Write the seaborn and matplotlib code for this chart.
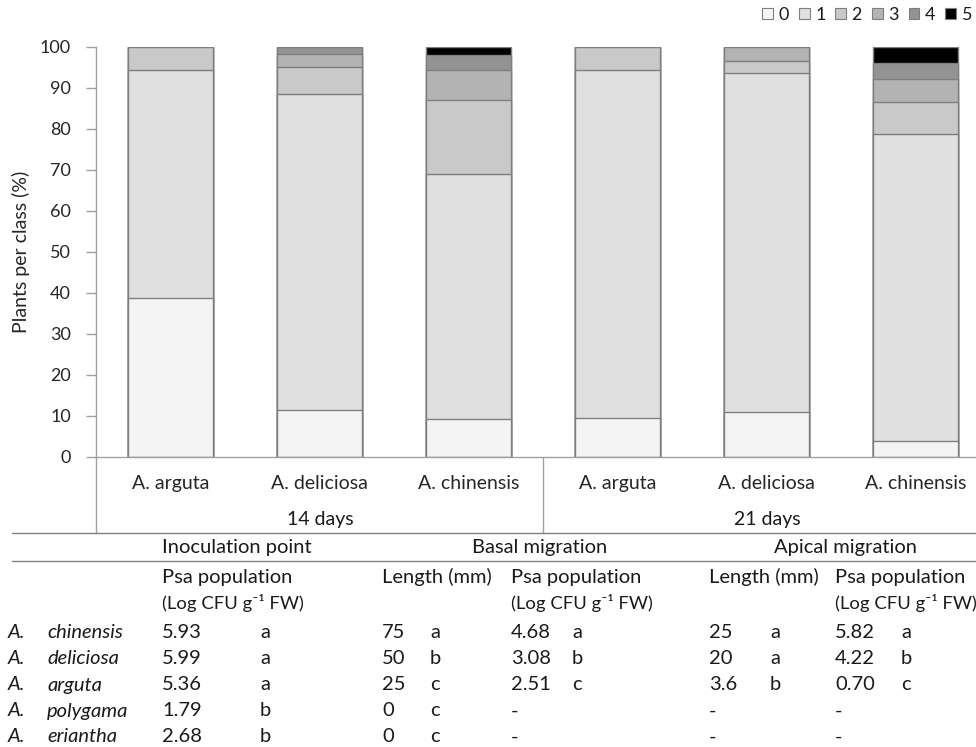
import numpy as np
import pandas as pd
import matplotlib
matplotlib.use("Agg")
import matplotlib.pyplot as plt
import seaborn as sns
from matplotlib.patches import Patch
from matplotlib.lines import Line2D

# bars: 14 days then 21 days
bar_keys = ["14_arguta", "14_deliciosa", "14_chinensis", "21_arguta", "21_deliciosa", "21_chinensis"]
bar_labels = ["A. arguta", "A. deliciosa", "A. chinensis"] * 2
day_labels = ["14 days", "21 days"]
class_names = ["0", "1", "2", "3", "4", "5"]

# percent of plants per symptom class
class0 = [38.8, 11.4, 9.2, 9.6, 10.9, 3.8]
class1 = [55.5, 77.1, 59.8, 84.7, 82.8, 74.9]
class2 = [5.7, 6.5, 18.0, 5.7, 3.0, 7.8]
class3 = [0.0, 3.2, 7.5, 0.0, 3.3, 5.7]
class4 = [0.0, 1.8, 3.5, 0.0, 0.0, 3.8]
class5 = [0.0, 0.0, 2.0, 0.0, 0.0, 4.0]

# table under the chart
table_species = ["chinensis", "deliciosa", "arguta", "polygama", "eriantha"]
inoc_pop = ["5.93", "5.99", "5.36", "1.79", "2.68"]
inoc_sig = ["a", "a", "a", "b", "b"]
basal_len = ["75", "50", "25", "0", "0"]
basal_len_sig = ["a", "b", "c", "c", "c"]
basal_pop = ["4.68", "3.08", "2.51", "-", "-"]
basal_pop_sig = ["a", "b", "c", "", ""]
apical_len = ["25", "20", "3.6", "-", "-"]
apical_len_sig = ["a", "a", "b", "", ""]
apical_pop = ["5.82", "4.22", "0.70", "-", "-"]
apical_pop_sig = ["a", "b", "c", "", ""]

class_colors = ["#f4f4f4", "#e0e0e0", "#c9c9c9", "#b3b3b3", "#939393", "#000000"]
edge = "#7f7f7f"
axis_grey = "#a0a0a0"

sns.set_style("white")
plt.rcParams["font.family"] = ["Lato", "DejaVu Sans"]
plt.rcParams["text.color"] = "#1a1a1a"
fs = 14.5

W, H = 976, 747
fig = plt.figure(figsize=(W / 100, H / 100), dpi=100)


def fx(x):
    return x / W


def fy(y):
    return 1 - y / H


ax = fig.add_axes([fx(96), fy(457), (990 - 96) / W, (457 - 47) / H])

values = np.array([class0, class1, class2, class3, class4, class5])
cum = values.cumsum(axis=0)
df = pd.DataFrame({"bar": bar_keys})

# draw cumulative bars from the top class down so they stack
for k in range(len(class_names) - 1, -1, -1):
    df["h"] = cum[k]
    sns.barplot(data=df, x="bar", y="h", order=bar_keys, color=class_colors[k],
                saturation=1, edgecolor=edge, linewidth=1, width=0.57,
                errorbar=None, ax=ax)

ax.set_xlim(-0.5, 5.5)
ax.set_ylim(0, 100)
ax.set_yticks(range(0, 101, 10))
ax.set_xticks(range(len(bar_keys)))
ax.set_xticklabels(bar_labels, fontsize=14)
ax.set_xlabel("")
ax.set_ylabel("Plants per class (%)", fontsize=14, labelpad=7)
ax.tick_params(axis="y", labelsize=13, length=7, width=1, color=axis_grey,
               direction="out", pad=11, left=True)
ax.tick_params(axis="x", length=0, pad=13)
for s in ["top", "right"]:
    ax.spines[s].set_visible(False)
for s in ["left", "bottom"]:
    ax.spines[s].set_color(axis_grey)
    ax.spines[s].set_linewidth(1)


def hline(x0, x1, y):
    fig.add_artist(Line2D([fx(x0), fx(x1)], [fy(y), fy(y)], color="#7f7f7f", lw=1))


def vline(x, y0, y1):
    fig.add_artist(Line2D([fx(x), fx(x)], [fy(y0), fy(y1)], color=axis_grey, lw=1))


vline(96, 457, 533)
vline(543, 457, 533)
hline(12, 976, 533)
hline(12, 976, 561)

fig.text(fx(320), fy(520), day_labels[0], ha="center", va="center", fontsize=14)
fig.text(fx(767), fy(520), day_labels[1], ha="center", va="center", fontsize=14)

# table headers
fig.text(fx(162), fy(548), "Inoculation point", ha="left", va="center", fontsize=fs)
fig.text(fx(540), fy(548), "Basal migration", ha="center", va="center", fontsize=fs)
fig.text(fx(845), fy(548), "Apical migration", ha="center", va="center", fontsize=fs)

unit = "(Log CFU g\u207b\u00b9 FW)"
for x in [162, 511, 835]:
    fig.text(fx(x), fy(577), "Psa population", ha="left", va="center", fontsize=fs)
    fig.text(fx(x), fy(603), unit, ha="left", va="center", fontsize=13.3)
for x in [382, 709]:
    fig.text(fx(x), fy(577), "Length (mm)", ha="left", va="center", fontsize=fs)

row_y = [632, 658, 685, 711, 737]
cols = [(162, inoc_pop), (260, inoc_sig), (382, basal_len), (430, basal_len_sig),
        (511, basal_pop), (572, basal_pop_sig), (709, apical_len), (770, apical_len_sig),
        (835, apical_pop), (901, apical_pop_sig)]
for i, y in enumerate(row_y):
    fig.text(fx(8), fy(y), "A.", ha="left", va="center", fontsize=fs, style="italic")
    fig.text(fx(47), fy(y), table_species[i], ha="left", va="center", fontsize=fs, style="italic")
    for x, col in cols:
        fig.text(fx(x), fy(y), col[i], ha="left", va="center", fontsize=fs)

handles = [Patch(facecolor=c, edgecolor=edge, linewidth=0.8) for c in class_colors]
fig.legend(handles, class_names, loc="center right", bbox_to_anchor=(fx(972), fy(15)),
           ncol=6, frameon=False, fontsize=13, handlelength=0.6, handleheight=0.6,
           handletextpad=0.3, columnspacing=0.55, borderaxespad=0, borderpad=0)

fig.savefig("out.png", dpi=100)
